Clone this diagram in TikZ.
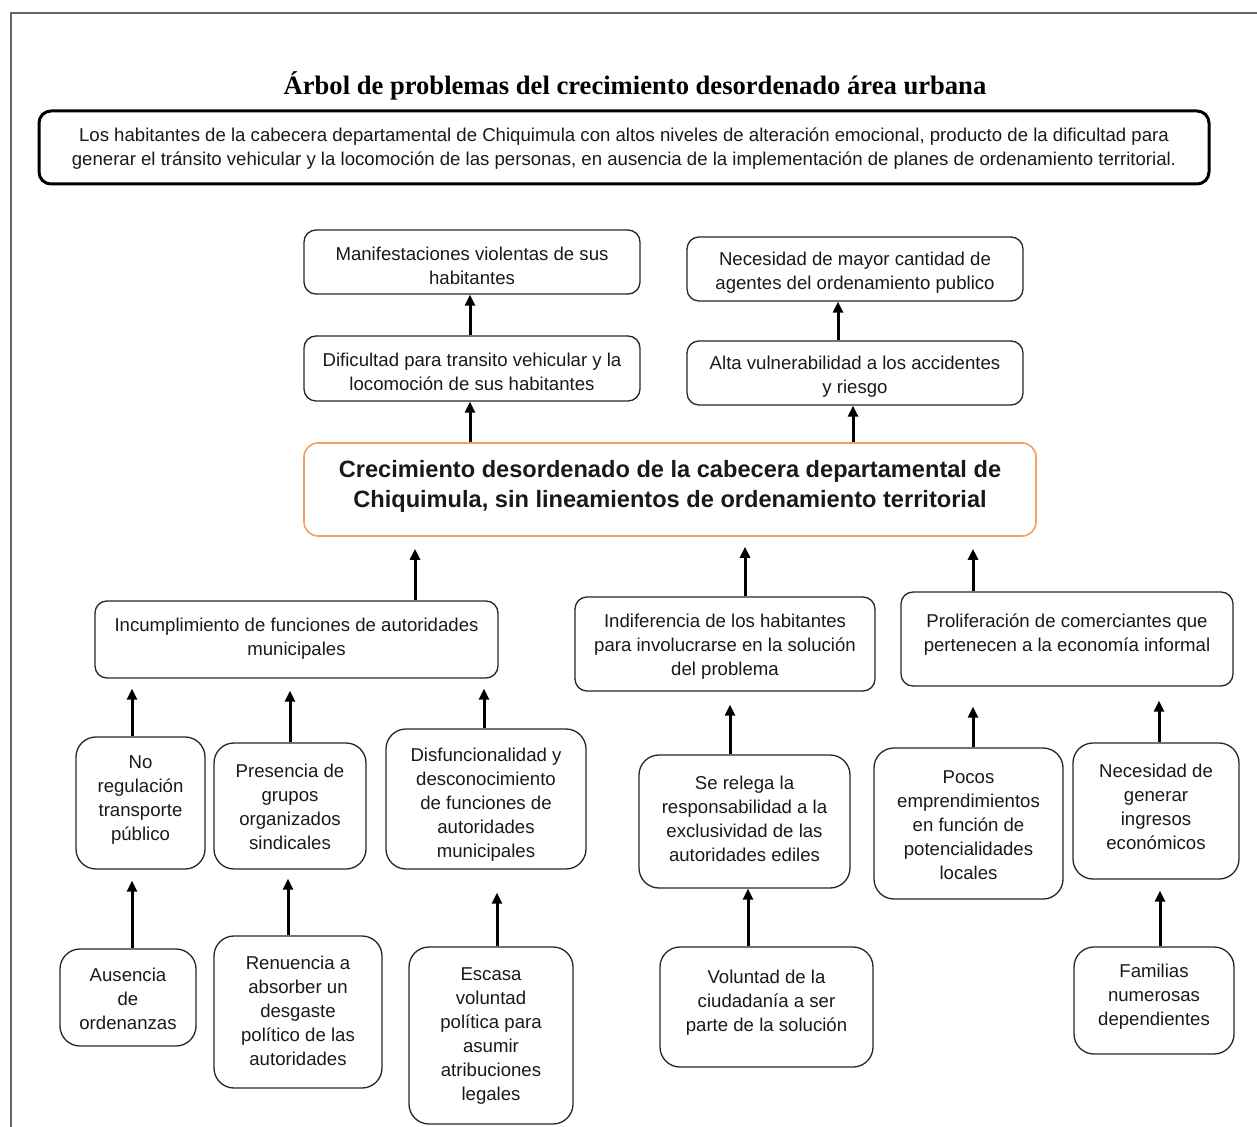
\documentclass[tikz,border=0pt]{standalone}
\usepackage{fontspec}
\setmainfont{Liberation Serif}
\setsansfont{Liberation Sans}
\usetikzlibrary{arrows.meta}
\definecolor{orng}{RGB}{242,160,100}
\tikzset{
  x=0.5pt, y=-0.5pt,
  bx/.style={draw=black!85, line width=0.65pt, rounded corners=#1, inner sep=0pt},
  txt/.style={font=\sffamily\fontsize{9.3}{12}\selectfont, align=center, inner sep=0pt, text=black!90, yshift=-1.5pt},
  arr/.style={line width=1.5pt, -{Triangle[length=5.5pt,width=5pt]}},
}
\newcommand\tb[8][5pt]{%
  \node[bx=#1, minimum width={(#5-#3)*0.5pt}, minimum height={(#6-#4)*0.5pt}] (#2) at ({(#3+#5)/2},{(#4+#6)/2}) {};
  \node[txt] (#2t) at ({(#3+#5)/2},#7) {#8};
}
\begin{document}
\begin{tikzpicture}
\useasboundingbox (0,0) rectangle (1257,1127);
\draw[black!60, line width=0.6pt] (11,1127) -- (11,13) -- (1257,13);

\node[font=\bfseries\fontsize{13.3}{16}\selectfont, inner sep=0pt] (title) at (635,86) {Árbol de problemas del crecimiento desordenado área urbana};

\node[draw=black, line width=1.5pt, rounded corners=6pt, minimum width=585pt, minimum height=36.5pt, inner sep=0pt] (top) at (624,147.5) {};
\node[txt] (topt) at (624,146) {Los habitantes de la cabecera departamental de Chiquimula con altos niveles de alteración emocional, producto de la dificultad para\\generar el tránsito vehicular y la locomoción de las personas, en ausencia de la implementación de planes de ordenamiento territorial.};

% effects
\tb[6pt]{e1}{304}{230}{640}{294}{263}{Manifestaciones violentas de sus\\habitantes}
\tb[6pt]{e2}{304}{336}{640}{401}{369}{Dificultad para transito vehicular y la\\locomoción de sus habitantes}
\tb[6pt]{e3}{687}{237}{1023}{301}{270}{Necesidad de mayor cantidad de\\agentes del ordenamiento publico}
\tb[6pt]{e4}{687}{341}{1023}{405}{374}{Alta vulnerabilidad a los accidentes\\y riesgo}

% central problem
\node[draw=orng, line width=0.8pt, rounded corners=7pt, minimum width=366pt, minimum height=46.5pt, inner sep=0pt] (cen) at (670,489.5) {};
\node[font=\sffamily\bfseries\fontsize{11.8}{15}\selectfont, align=center, inner sep=0pt, text=black!90] (cent) at (670,486) {Crecimiento desordenado de la cabecera departamental de\\Chiquimula, sin lineamientos de ordenamiento territorial};

% causes level 1
\tb[6pt]{c1}{95}{601}{498}{678}{636}{Incumplimiento de funciones de autoridades\\municipales}
\tb[6pt]{c2}{575}{597}{875}{691}{644}{Indiferencia de los habitantes\\para involucrarse en la solución\\del problema}
\tb[6pt]{c3}{901}{592}{1233}{686}{632}{Proliferación de comerciantes que\\pertenecen a la economía informal}

% causes level 2
\tb[10pt]{d1}{76}{737}{205}{869}{797}{No\\regulación\\transporte\\público}
\tb[10pt]{d2}{214}{743}{366}{869}{804}{Presencia de\\grupos\\organizados\\sindicales}
\tb[10pt]{d3}{386}{729}{586}{869}{802}{Disfuncionalidad y\\desconocimiento\\de funciones de\\autoridades\\municipales}
\tb[10pt]{d4}{639}{755}{850}{888}{816}{Se relega la\\responsabilidad a la\\exclusividad de las\\autoridades ediles}
\tb[10pt]{d5}{874}{748}{1063}{899}{822}{Pocos\\emprendimientos\\en función de\\potencialidades\\locales}
\tb[10pt]{d6}{1073}{743}{1239}{879}{804}{Necesidad de\\generar\\ingresos\\económicos}

% causes level 3
\tb[10pt]{f1}{60}{949}{196}{1046}{996}{Ausencia\\de\\ordenanzas}
\tb[10pt]{f2}{214}{936}{382}{1088}{1008}{Renuencia a\\absorber un\\desgaste\\político de las\\autoridades}
\tb[10pt]{f3}{409}{947}{573}{1124}{1033}{Escasa\\voluntad\\política para\\asumir\\atribuciones\\legales}
\tb[10pt]{f4}{660}{947}{873}{1067}{1000}{Voluntad de la\\ciudadanía a ser\\parte de la solución}
\tb[10pt]{f5}{1074}{947}{1234}{1054}{994}{Familias\\numerosas\\dependientes}

% arrows
\draw[arr] (470,0 |- e2.north) -- (470,0 |- e1.south);
\draw[arr] (470,0 |- cen.north) -- (470,0 |- e2.south);
\draw[arr] (838,0 |- e4.north) -- (838,0 |- e3.south);
\draw[arr] (853,0 |- cen.north) -- (853,0 |- e4.south);
\draw[arr, shorten >=6pt] (415,0 |- c1.north) -- (415,0 |- cen.south);
\draw[arr, shorten >=5pt] (745,0 |- c2.north) -- (745,0 |- cen.south);
\draw[arr, shorten >=6pt] (973,0 |- c3.north) -- (973,0 |- cen.south);
\draw[arr, shorten >=5pt] (132,0 |- d1.north) -- (132,0 |- c1.south);
\draw[arr, shorten >=6pt] (290,0 |- d2.north) -- (290,0 |- c1.south);
\draw[arr, shorten >=5pt] (484,0 |- d3.north) -- (484,0 |- c1.south);
\draw[arr, shorten >=6.5pt] (730,0 |- d4.north) -- (730,0 |- c2.south);
\draw[arr, shorten >=10pt] (973,0 |- d5.north) -- (973,0 |- c3.south);
\draw[arr, shorten >=7pt] (1159,0 |- d6.north) -- (1159,0 |- c3.south);
\draw[arr, shorten >=5.5pt] (132,0 |- f1.north) -- (132,0 |- d1.south);
\draw[arr, shorten >=4.5pt] (288,0 |- f2.north) -- (288,0 |- d2.south);
\draw[arr, shorten >=11.5pt] (497,0 |- f3.north) -- (497,0 |- d3.south);
\draw[arr] (748,0 |- f4.north) -- (748,0 |- d4.south);
\draw[arr, shorten >=5.5pt] (1160,0 |- f5.north) -- (1160,0 |- d6.south);
\end{tikzpicture}
\end{document}
